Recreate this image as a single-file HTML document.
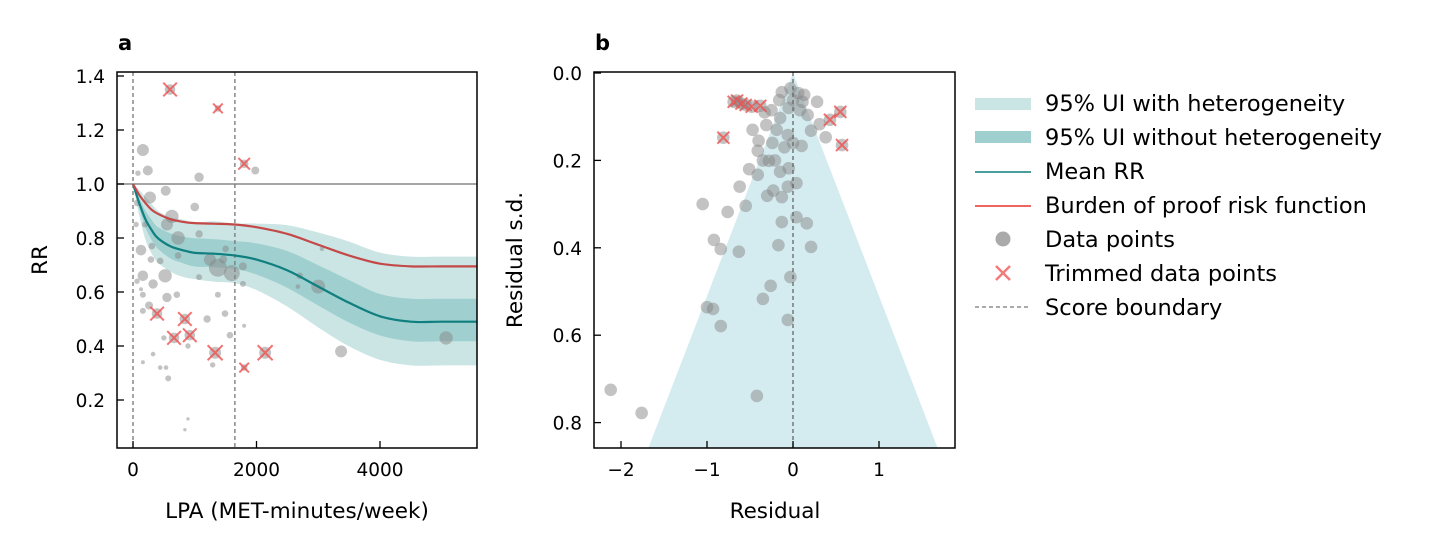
<!DOCTYPE html>
<html><head><meta charset="utf-8"><style>
html,body{margin:0;padding:0;background:#fff;}
svg{display:block;font-family:"DejaVu Sans","Liberation Sans",sans-serif;}
</style></head><body>
<svg id="chart" width="1432" height="550" viewBox="0 0 1432 550" xmlns="http://www.w3.org/2000/svg">
<text x="118" y="50" font-size="21" font-weight="bold">a</text>
<text x="595" y="50" font-size="21" font-weight="bold">b</text>
<text x="297" y="518" font-size="21.5" text-anchor="middle">LPA (MET-minutes/week)</text>
<text x="47" y="260" font-size="21.5" text-anchor="middle" transform="rotate(-90 47 260)">RR</text>
<text x="775" y="518" font-size="21.5" text-anchor="middle">Residual</text>
<text x="522" y="260" font-size="21.5" text-anchor="middle" transform="rotate(-90 522 260)">Residual s.d.</text>
<g id="ga"></g><g id="gb"></g>
<g font-size="22.5">
 <g><rect x="975" y="98" width="56" height="12" fill="#cae5e4"/><text x="1045" y="111">95% UI with heterogeneity</text></g>
 <g><rect x="975" y="131" width="56" height="12" fill="#9fcfcf"/><text x="1045" y="145">95% UI without heterogeneity</text></g>
 <g><line x1="975" y1="172" x2="1031" y2="172" stroke="#0f7f7f" stroke-width="1.5"/><text x="1045" y="179">Mean RR</text></g>
 <g><line x1="975" y1="206" x2="1031" y2="206" stroke="#e8322e" stroke-width="1.5"/><text x="1045" y="213">Burden of proof risk function</text></g>
 <g><circle cx="1003" cy="239" r="7.5" fill="#aaa"/><text x="1045" y="247">Data points</text></g>
 <g><path d="M996 266 L1010 280 M1010 266 L996 280" stroke="#f27b7b" stroke-width="2.5"/><text x="1045" y="281">Trimmed data points</text></g>
 <g><line x1="975" y1="307" x2="1031" y2="307" stroke="#777" stroke-width="1.3" stroke-dasharray="4,3"/><text x="1045" y="315">Score boundary</text></g>
</g>
</svg>
<script>
// ---- panel a data ----
const curveX=[0,100,200,300,400,600,800,1000,1300,1650,2000,2500,3000,3500,4000,4500,5000,5570];
const meanRR=[1.0,0.93,0.87,0.83,0.80,0.77,0.755,0.745,0.742,0.735,0.72,0.68,0.62,0.56,0.51,0.49,0.49,0.49];
const burdenRR=[1.0,0.96,0.93,0.905,0.89,0.87,0.86,0.855,0.853,0.85,0.84,0.815,0.775,0.735,0.705,0.695,0.695,0.695];
const innerHalf=[0,0.02,0.035,0.045,0.05,0.06,0.065,0.07,0.07,0.07,0.08,0.1,0.12,0.14,0.15,0.16,0.16,0.16];
const outerHalf=[0,0.05,0.09,0.11,0.12,0.13,0.14,0.14,0.15,0.15,0.17,0.22,0.28,0.34,0.38,0.40,0.40,0.40];
const ptsAX=[160,240,80,1070,1980,530,275,1000,65,630,550,730,1070,50,195,130,305,730,1500,1245,1375,1600,1780,1460,290,440,160,520,325,65,1070,1780,2700,2670,3000,3060,550,710,160,130,1375,260,160,1490,1200,1570,500,890,325,1290,440,535,570,160,1800,3370,5070,890,840];
const ptsAY=[1.126,1.05,1.04,1.025,1.05,0.975,0.95,0.915,0.93,0.88,0.85,0.80,0.815,0.85,0.85,0.755,0.77,0.735,0.76,0.72,0.69,0.67,0.695,0.72,0.72,0.715,0.66,0.66,0.63,0.64,0.655,0.63,0.66,0.62,0.62,0.76,0.58,0.59,0.59,0.61,0.59,0.55,0.53,0.52,0.50,0.44,0.43,0.40,0.37,0.33,0.32,0.32,0.28,0.34,0.475,0.38,0.43,0.13,0.09];
const ptsAR=[6,5,2.7,4.7,4,5,6,4.3,3.3,6.7,6,6.7,3.7,2.7,3,5.3,3.3,3.3,3.3,6,9,8,4,4,3.3,3.3,5.3,6.7,4.7,2.7,3,3,3.3,2.3,7,2.3,4.7,3.3,3,2,3,4,3,3.3,3.7,3.3,2.7,2.7,2.3,2.7,2.3,2.3,3,2,2,6,6.7,1.7,1.7];
const trimAX=[600,1375,1800,390,840,665,920,1330,2140,1800];
const trimAY=[1.35,1.28,1.075,0.52,0.50,0.43,0.44,0.375,0.375,0.32];
const trimAR=[5.3,3.3,4.3,5.3,5.3,5.3,5.3,6,6,3.3];
const xTicksA=[0,2000,4000];
const yTicksA=[0.2,0.4,0.6,0.8,1.0,1.2,1.4];
const boundaryA=[0,1650];
// ---- panel b data ----
const resB=[-0.13,-0.03,0.06,0.13,0.28,-0.16,0,0.11,-0.25,-0.33,-0.05,0.08,0.17,0.31,-0.15,-0.31,-0.47,0.21,0.38,-0.19,-0.06,0,0.1,-0.4,-0.24,-0.41,-0.1,-0.35,-0.28,-0.21,-0.51,-0.41,-0.15,-0.05,0.04,-0.06,-0.62,-0.23,-0.3,-0.13,-1.05,-0.76,-0.55,-0.13,0.04,0.16,-0.92,-0.84,-0.63,-0.17,0.21,-0.03,-0.26,-0.35,-1.0,-0.93,-0.84,-0.06,-2.12,-0.42,-1.76];
const sdB=[0.044,0.035,0.046,0.05,0.066,0.062,0.062,0.066,0.085,0.09,0.08,0.085,0.096,0.117,0.103,0.119,0.13,0.132,0.147,0.13,0.142,0.16,0.167,0.155,0.16,0.178,0.17,0.2,0.201,0.2,0.22,0.233,0.226,0.218,0.252,0.26,0.26,0.269,0.281,0.284,0.3,0.318,0.304,0.341,0.33,0.344,0.382,0.403,0.409,0.394,0.398,0.467,0.487,0.517,0.536,0.54,0.579,0.565,0.725,0.739,0.778];
const trimResB=[-0.65,-0.69,-0.55,-0.48,-0.38,-0.6,-0.81,0.43,0.55,0.57];
const trimSdB=[0.063,0.066,0.073,0.077,0.075,0.07,0.148,0.107,0.089,0.165];
const xTicksB=[-2,-1,0,1];
const yTicksB=[0.0,0.2,0.4,0.6,0.8];

const NS="http://www.w3.org/2000/svg";
function mk(parent,tag,attrs){const e=document.createElementNS(NS,tag);for(const k in attrs)e.setAttribute(k,attrs[k]);parent.appendChild(e);return e;}
function smooth(pts){let d="M"+pts[0][0]+","+pts[0][1];for(let i=0;i<pts.length-1;i++){const p0=pts[Math.max(i-1,0)],p1=pts[i],p2=pts[i+1],p3=pts[Math.min(i+2,pts.length-1)];const c1x=p1[0]+(p2[0]-p0[0])/6,c1y=p1[1]+(p2[1]-p0[1])/6,c2x=p2[0]-(p3[0]-p1[0])/6,c2y=p2[1]-(p3[1]-p1[1])/6;d+=" C"+c1x+","+c1y+" "+c2x+","+c2y+" "+p2[0]+","+p2[1];}return d;}

// Panel a
const A={l:117,r:477,t:72,b:448};
const xa=v=>133+v*0.06175;
const ya=v=>184-(v-1)*270;
const ga=document.getElementById('ga');
function band(half,fill,name){
 const up=curveX.map((x,i)=>[xa(x),ya(meanRR[i]*Math.exp(half[i]))]);
 const lo=curveX.map((x,i)=>[xa(x),ya(meanRR[i]*Math.exp(-half[i]))]).reverse();
 const d=smooth(up)+" L"+lo[0][0]+","+lo[0][1]+smooth(lo).replace(/^M[^C]*/,"")+"Z";
 const p=mk(ga,'path',{d:d,fill:fill});
 
 
}
band(outerHalf,'#cae5e4','ui-with-heterogeneity');
band(innerHalf,'#9fcfcf','ui-without-heterogeneity');
let hl=mk(ga,'line',{x1:A.l,x2:A.r,y1:ya(1),y2:ya(1),stroke:'#888','stroke-width':1.5});


boundaryA.forEach(v=>{const l=mk(ga,'line',{x1:xa(v),x2:xa(v),y1:A.t,y2:A.b,stroke:'#777','stroke-width':1.3,'stroke-dasharray':'4,3'});
 
 });
ptsAX.forEach((x,i)=>{const c=mk(ga,'circle',{cx:xa(x),cy:ya(ptsAY[i]),r:ptsAR[i],fill:'#888','fill-opacity':0.5});
 
 });
trimAX.forEach((x,i)=>{const cx=xa(x),cy=ya(trimAY[i]),r=trimAR[i];
 const c=mk(ga,'circle',{cx:cx,cy:cy,r:r,fill:'#888','fill-opacity':0.5});
 
 
 const s=r+1.5;
 const p=mk(ga,'path',{d:`M${cx-s},${cy-s}L${cx+s},${cy+s}M${cx+s},${cy-s}L${cx-s},${cy+s}`,stroke:'#f05050','stroke-opacity':0.8,'stroke-width':2});
 
 });
let ml=mk(ga,'path',{d:smooth(curveX.map((x,i)=>[xa(x),ya(meanRR[i])])),fill:'none',stroke:'#0f7f7f','stroke-width':2.2});


let bl=mk(ga,'path',{d:smooth(curveX.map((x,i)=>[xa(x),ya(burdenRR[i])])),fill:'none',stroke:'#c44848','stroke-width':2.2});


let fa=mk(ga,'rect',{x:A.l,y:A.t,width:A.r-A.l,height:A.b-A.t,fill:'none',stroke:'#000','stroke-width':1.5});


xTicksA.forEach(v=>{mk(ga,'line',{x1:xa(v),x2:xa(v),y1:A.b,y2:A.b-7,stroke:'#000','stroke-width':1.3});
 const t=mk(ga,'text',{x:xa(v),y:A.b+28,'font-size':18.5,'text-anchor':'middle'});t.textContent=v;
 
 });
yTicksA.forEach(v=>{mk(ga,'line',{x1:A.l,x2:A.l+7,y1:ya(v),y2:ya(v),stroke:'#000','stroke-width':1.3});
 const t=mk(ga,'text',{x:A.l-12,y:ya(v)+7,'font-size':18.5,'text-anchor':'end'});t.textContent=v.toFixed(1);
 
 });

// Panel b
const B={l:594,r:955,t:72,b:448};
const xb=v=>793+v*86;
const yb=v=>73+v*437;
const gb=document.getElementById('gb');
const sdMax=(B.b-73)/437;
let fun=mk(gb,'path',{d:`M${xb(0)},${yb(0)}L${xb(1.96*sdMax)},${B.b}L${xb(-1.96*sdMax)},${B.b}Z`,fill:'#d4ecf0'});


resB.forEach((x,i)=>{const c=mk(gb,'circle',{cx:xb(x),cy:yb(sdB[i]),r:6.3,fill:'#888','fill-opacity':0.5});
 
 });
trimResB.forEach((x,i)=>{const cx=xb(x),cy=yb(trimSdB[i]);
 const c=mk(gb,'circle',{cx:cx,cy:cy,r:6.3,fill:'#888','fill-opacity':0.5});
 
 
 const s=6;
 const p=mk(gb,'path',{d:`M${cx-s},${cy-s}L${cx+s},${cy+s}M${cx+s},${cy-s}L${cx-s},${cy+s}`,stroke:'#f05050','stroke-opacity':0.8,'stroke-width':2});
 
 });
let zl=mk(gb,'line',{x1:xb(0),x2:xb(0),y1:B.t,y2:B.b,stroke:'#666','stroke-width':1.3,'stroke-dasharray':'4,3'});


let fb=mk(gb,'rect',{x:B.l,y:B.t,width:B.r-B.l,height:B.b-B.t,fill:'none',stroke:'#000','stroke-width':1.5});


xTicksB.forEach(v=>{mk(gb,'line',{x1:xb(v),x2:xb(v),y1:B.b,y2:B.b-7,stroke:'#000','stroke-width':1.3});
 const t=mk(gb,'text',{x:xb(v),y:B.b+28,'font-size':18.5,'text-anchor':'middle'});t.textContent=v<0?'\u2212'+(-v):v;
 
 });
yTicksB.forEach(v=>{mk(gb,'line',{x1:B.l,x2:B.l+7,y1:yb(v),y2:yb(v),stroke:'#000','stroke-width':1.3});
 const t=mk(gb,'text',{x:B.l-12,y:yb(v)+7,'font-size':18.5,'text-anchor':'end'});t.textContent=v.toFixed(1);
 
 });
</script>
</body></html>
